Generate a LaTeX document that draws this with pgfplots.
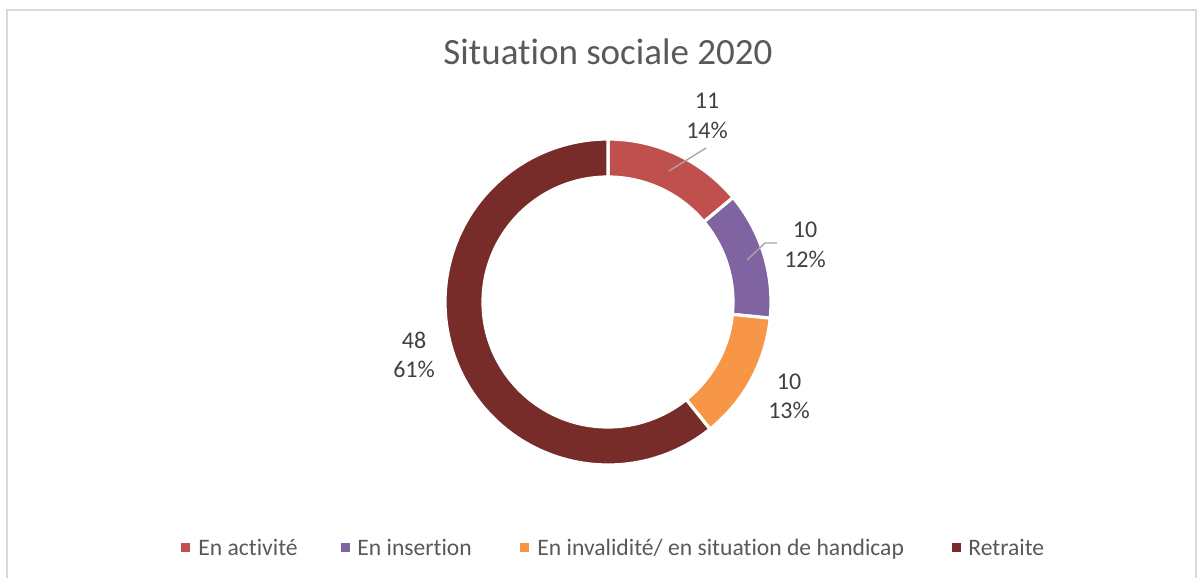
\documentclass[border=0pt]{standalone}
\usepackage{pgfplots}
\pgfplotsset{compat=1.18}
\usepackage{fontspec}
\setmainfont{Carlito}[Ligatures=NoCommon]
\definecolor{cA}{HTML}{C0504D}
\definecolor{cB}{HTML}{8064A2}
\definecolor{cC}{HTML}{F79646}
\definecolor{cD}{HTML}{772C2A}
\definecolor{ttl}{HTML}{595959}
\definecolor{lbl}{HTML}{404040}
\definecolor{brd}{HTML}{D9D9D9}
\definecolor{lead}{HTML}{A6A6A6}
\begin{document}
\begin{tikzpicture}
\begin{axis}[x=0.5pt,y=0.5pt,xmin=0,xmax=1198,ymin=0,ymax=578,hide axis,clip=false,scale only axis]
\path (axis cs:0,0) rectangle (axis cs:1198,578);
% values: En activite, En insertion, En invalidite, Retraite
\def\cx{608}\def\cy{276}\def\Ro{163}\def\Ri{125}
\xdef\cum{0}
\foreach \val/\col in {11/cA,10/cB,10/cC,48/cD} {
  \pgfmathsetmacro\as{90-\cum/79*360}
  \pgfmathsetmacro\newcum{\cum+\val}
  \xdef\cum{\newcum}
  \pgfmathsetmacro\ae{90-\cum/79*360}
  \pgfmathsetmacro\xa{\cx+\Ro*cos(\as)}
  \pgfmathsetmacro\ya{\cy+\Ro*sin(\as)}
  \pgfmathsetmacro\xb{\cx+\Ri*cos(\ae)}
  \pgfmathsetmacro\yb{\cy+\Ri*sin(\ae)}
  \edef\cmd{\noexpand\fill[\col, draw=white, line width=1.6pt, line join=miter] (axis cs:\xa,\ya) arc[start angle=\as, end angle=\ae, radius=81.5pt] -- (axis cs:\xb,\yb) arc[start angle=\ae, end angle=\as, radius=62.5pt] -- cycle;}
  \cmd
}
% border
\draw[brd, line width=1pt] (axis cs:7,0) -- (axis cs:7,568) -- (axis cs:1196,568) -- (axis cs:1196,0);
% title
\node[text=ttl, font=\fontsize{18.5}{22}\selectfont] at (axis cs:608,526) {Situation sociale 2020};
% leader lines
\draw[lead, line width=0.7pt] (axis cs:706,430) -- (axis cs:669,407);
\draw[lead, line width=0.7pt] (axis cs:777,335) -- (axis cs:765,335) -- (axis cs:747,318);
% data labels
\tikzset{dl/.style={text=lbl, font=\fontsize{12}{14}\selectfont, inner sep=0pt}}
\node[dl] at (axis cs:707,477) {11};
\node[dl] at (axis cs:707,448) {14\%};
\node[dl] at (axis cs:805,348) {10};
\node[dl] at (axis cs:805,319) {12\%};
\node[dl] at (axis cs:789,196) {10};
\node[dl] at (axis cs:789,168) {13\%};
\node[dl] at (axis cs:414,238) {48};
\node[dl] at (axis cs:414,209) {61\%};
% legend
\tikzset{lg/.style={text=ttl, font=\fontsize{11.8}{14}\selectfont, anchor=base west, inner sep=0pt}}
\fill[cA] (axis cs:181,26) rectangle (axis cs:190,35);
\node[lg] at (axis cs:198,23) {En activité};
\fill[cB] (axis cs:341,26) rectangle (axis cs:350,35);
\node[lg] at (axis cs:357,23) {En insertion};
\fill[cC] (axis cs:520,26) rectangle (axis cs:529,35);
\node[lg] at (axis cs:537,23) {En invalidité/ en situation de handicap};
\fill[cD] (axis cs:952,26) rectangle (axis cs:961,35);
\node[lg] at (axis cs:968,23) {Retraite};
\end{axis}
\end{tikzpicture}
\end{document}
